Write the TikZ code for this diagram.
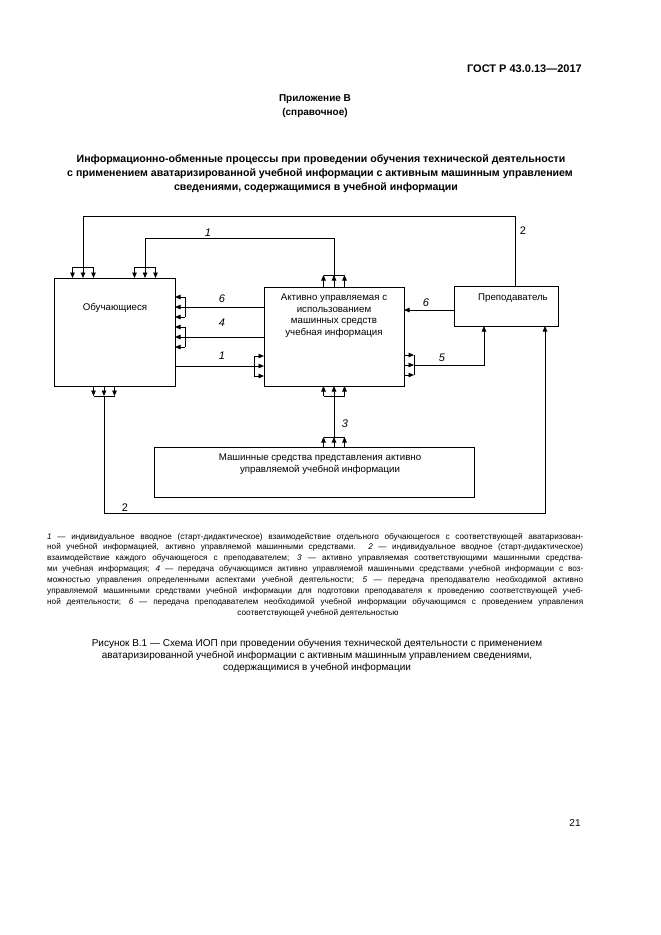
\documentclass[tikz,border=0pt]{standalone}
\usepackage{fontspec}
\setmainfont{Liberation Sans}
\usetikzlibrary{arrows.meta,calc}
\tikzset{
 box/.style={draw, line width=0.8pt, anchor=north west, inner sep=0pt, outer sep=0pt},
 conn/.style={line width=0.8pt},
 arr/.style={conn, -{Triangle[length=5.5pt,width=4.5pt]}},
 txt/.style={font=\fontsize{9.7}{11.5}\selectfont, inner sep=0pt, anchor=base},
 num/.style={font=\fontsize{11}{11}\selectfont\itshape, inner sep=0pt, anchor=base},
 numup/.style={font=\fontsize{11}{11}\selectfont, inner sep=0pt, anchor=base},
 hdr/.style={font=\fontsize{10}{12}\selectfont\bfseries, inner sep=0pt, anchor=base},
 titl/.style={font=\fontsize{10.6}{12}\selectfont\bfseries, inner sep=0pt, anchor=base},
 leg/.style={font=\fontsize{8.2}{9}\selectfont, inner sep=0pt, anchor=base west},
 captxt/.style={font=\fontsize{10}{12}\selectfont, inner sep=0pt, anchor=base},
}
\begin{document}
\begin{tikzpicture}[x=1pt,y=-1pt]
\useasboundingbox (0,0) rectangle (661,935);

% header
\node[hdr, font=\fontsize{11}{12}\selectfont\bfseries, anchor=base east] (gost) at (582,72) {ГОСТ Р 43.0.13—2017};
\node[hdr] (pril) at (315,101.5) {Приложение В};
\node[hdr] (sprav) at (315,115.5) {(справочное)};
\node[titl] (tit1) at (321,162) {Информационно-обменные процессы при проведении обучения технической деятельности};
\node[titl] (tit2) at (320,176) {с применением аватаризированной учебной информации с активным машинным управлением};
\node[titl] (tit3) at (316,190) {сведениями, содержащимися в учебной информации};

% boxes
\node[box, minimum width=121pt, minimum height=108pt] (obu) at (54,278) {};
\node[box, minimum width=140pt, minimum height=99pt] (act) at (264,287) {};
\node[box, minimum width=104pt, minimum height=40pt] (pre) at (454,286) {};
\node[box, minimum width=320pt, minimum height=50pt] (mash) at (154,447) {};

\node[txt] (obutxt) at (115,310) {Обучающиеся};
\node[txt] (acttxt1) at (334,300) {Активно управляемая с};
\node[txt] (acttxt2) at (334,312) {использованием};
\node[txt] (acttxt3) at (334,323.5) {машинных средств};
\node[txt] (acttxt4) at (334,335) {учебная информация};
\node[txt] (pretxt) at (513,300) {Преподаватель};
\node[txt] (mashtxt1) at (320,460) {Машинные средства представления активно};
\node[txt] (mashtxt2) at (320,472) {управляемой учебной информации};

% line 2 (top): teacher -> learners
\coordinate (p2a) at ($(pre.north west)+(61,0)$);
\coordinate (f2) at (83,267);
\draw[conn] (p2a) -- ++(0,-70) -| (f2);
\draw[conn] ($(f2)+(-10.5,0)$) -- ($(f2)+(10.5,0)$);
\foreach \dx in {-10.5,0,10.5} \draw[arr] ($(f2)+(\dx,0)$) -- ++(0,11);

% line 1 (top): active info -> learners
\coordinate (m1) at ($(act.north)+(0,-12)$);
\coordinate (f1) at (145,267);
\foreach \dx in {-10.5,0,10.5} \draw[arr] ($(act.north)+(\dx,0)$) -- ++(0,-12);
\draw[conn] ($(m1)+(-10.5,0)$) -- ($(m1)+(10.5,0)$);
\draw[conn] (m1) -- ++(0,-37) -| (f1);
\draw[conn] ($(f1)+(-10.5,0)$) -- ($(f1)+(10.5,0)$);
\foreach \dx in {-10.5,0,10.5} \draw[arr] ($(f1)+(\dx,0)$) -- ++(0,11);

% line 6: active -> learners
\coordinate (f6) at (185,307);
\draw[conn] (act.west |- f6) -- (f6);
\draw[conn] ($(f6)+(0,-10)$) -- ($(f6)+(0,10)$);
\foreach \dy in {-10,0,10} \draw[arr] ($(f6)+(0,\dy)$) -- ++(-10,0);

% line 4: active -> learners
\coordinate (f4) at (185,337);
\draw[conn] (act.west |- f4) -- (f4);
\draw[conn] ($(f4)+(0,-10)$) -- ($(f4)+(0,10)$);
\foreach \dy in {-10,0,10} \draw[arr] ($(f4)+(0,\dy)$) -- ++(-10,0);

% line 1 (lower): learners -> active
\coordinate (f1b) at (254,366);
\draw[conn] (obu.east |- f1b) -- (f1b);
\draw[conn] ($(f1b)+(0,-10)$) -- ($(f1b)+(0,10)$);
\foreach \dy in {-10,0,10} \draw[arr] ($(f1b)+(0,\dy)$) -- ++(10,0);

% line 6: teacher -> active
\coordinate (c6) at ($(pre.west)+(0,4)$);
\draw[arr] (c6) -- (c6 -| act.east);

% line 5: active -> teacher
\coordinate (m5) at (414,365);
\foreach \dy in {-10,0,10} \draw[arr] ($(act.east |- m5)+(0,\dy)$) -- ++(10,0);
\draw[conn] ($(m5)+(0,-10)$) -- ($(m5)+(0,10)$);
\draw[arr] (m5) -| ($(pre.south west)+(30,0)$);

% line 3: machine means -> active
\coordinate (m3) at ($(mash.north west)+(180,-10)$);
\coordinate (f3) at ($(act.south)+(0,10)$);
\foreach \dx in {-10.5,0,10.5} \draw[arr] ($(m3)+(\dx,10)$) -- ++(0,-10);
\draw[conn] ($(m3)+(-10.5,0)$) -- ($(m3)+(10.5,0)$);
\draw[conn] (m3) -- (f3);
\draw[conn] ($(f3)+(-10.5,0)$) -- ($(f3)+(10.5,0)$);
\foreach \dx in {-10.5,0,10.5} \draw[arr] ($(f3)+(\dx,0)$) -- ++(0,-10);

% line 2 (bottom): learners -> teacher
\coordinate (m2) at (104,396);
\foreach \dx in {-10.5,0,10.5} \draw[arr] ($(m2)+(\dx,-10)$) -- ++(0,10);
\draw[conn] ($(m2)+(-10.5,0)$) -- ($(m2)+(10.5,0)$);
\draw[arr] (m2) -- ++(0,117) -| ($(pre.south west)+(91,0)$);

% labels
\node[num] (l1a) at (208,236) {1};
\node[numup] (l2a) at (523,234) {2};
\node[num] (l6a) at (222,302) {6};
\node[num] (l4) at (222,326) {4};
\node[num] (l1b) at (222,359) {1};
\node[num] (l6b) at (426,306) {6};
\node[num] (l5) at (442,361) {5};
\node[num] (l3) at (345,427) {3};
\node[numup] (l2b) at (125,511) {2};

% legend
\node[leg] (leg1) at (47,539) {\makebox[536pt][s]{\textit{1} — индивидуальное вводное (старт-дидактическое) взаимодействие отдельного обучающегося с соответствующей аватаризован-}};
\node[leg] (leg2) at (47,549.9) {\makebox[536pt][s]{ной учебной информацией, активно управляемой машинными средствами. \textit{2} — индивидуальное вводное (старт-дидактическое)}};
\node[leg] (leg3) at (47,560.8) {\makebox[536pt][s]{взаимодействие каждого обучающегося с преподавателем; \textit{3} — активно управляемая соответствующими машинными средства-}};
\node[leg] (leg4) at (47,571.7) {\makebox[536pt][s]{ми учебная информация; \textit{4} — передача обучающимся активно управляемой машинными средствами учебной информации с воз-}};
\node[leg] (leg5) at (47,582.6) {\makebox[536pt][s]{можностью управления определенными аспектами учебной деятельности; \textit{5} — передача преподавателю необходимой активно}};
\node[leg] (leg6) at (47,593.5) {\makebox[536pt][s]{управляемой машинными средствами учебной информации для подготовки преподавателя к проведению соответствующей учеб-}};
\node[leg] (leg7) at (47,604.4) {\makebox[536pt][s]{ной деятельности; \textit{6} — передача преподавателем необходимой учебной информации обучающимся с проведением управления}};
\node[leg, anchor=base] (leg8) at (318,615.5) {соответствующей учебной деятельностью};

% caption
\node[captxt] (cap1) at (317,646) {Рисунок В.1 — Схема ИОП при проведении обучения технической деятельности с применением};
\node[captxt] (cap2) at (317,658) {аватаризированной учебной информации с активным машинным управлением сведениями,};
\node[captxt] (cap3) at (317,670) {содержащимися в учебной информации};

\node[captxt] (pnum) at (575,826) {21};
\end{tikzpicture}
\end{document}
